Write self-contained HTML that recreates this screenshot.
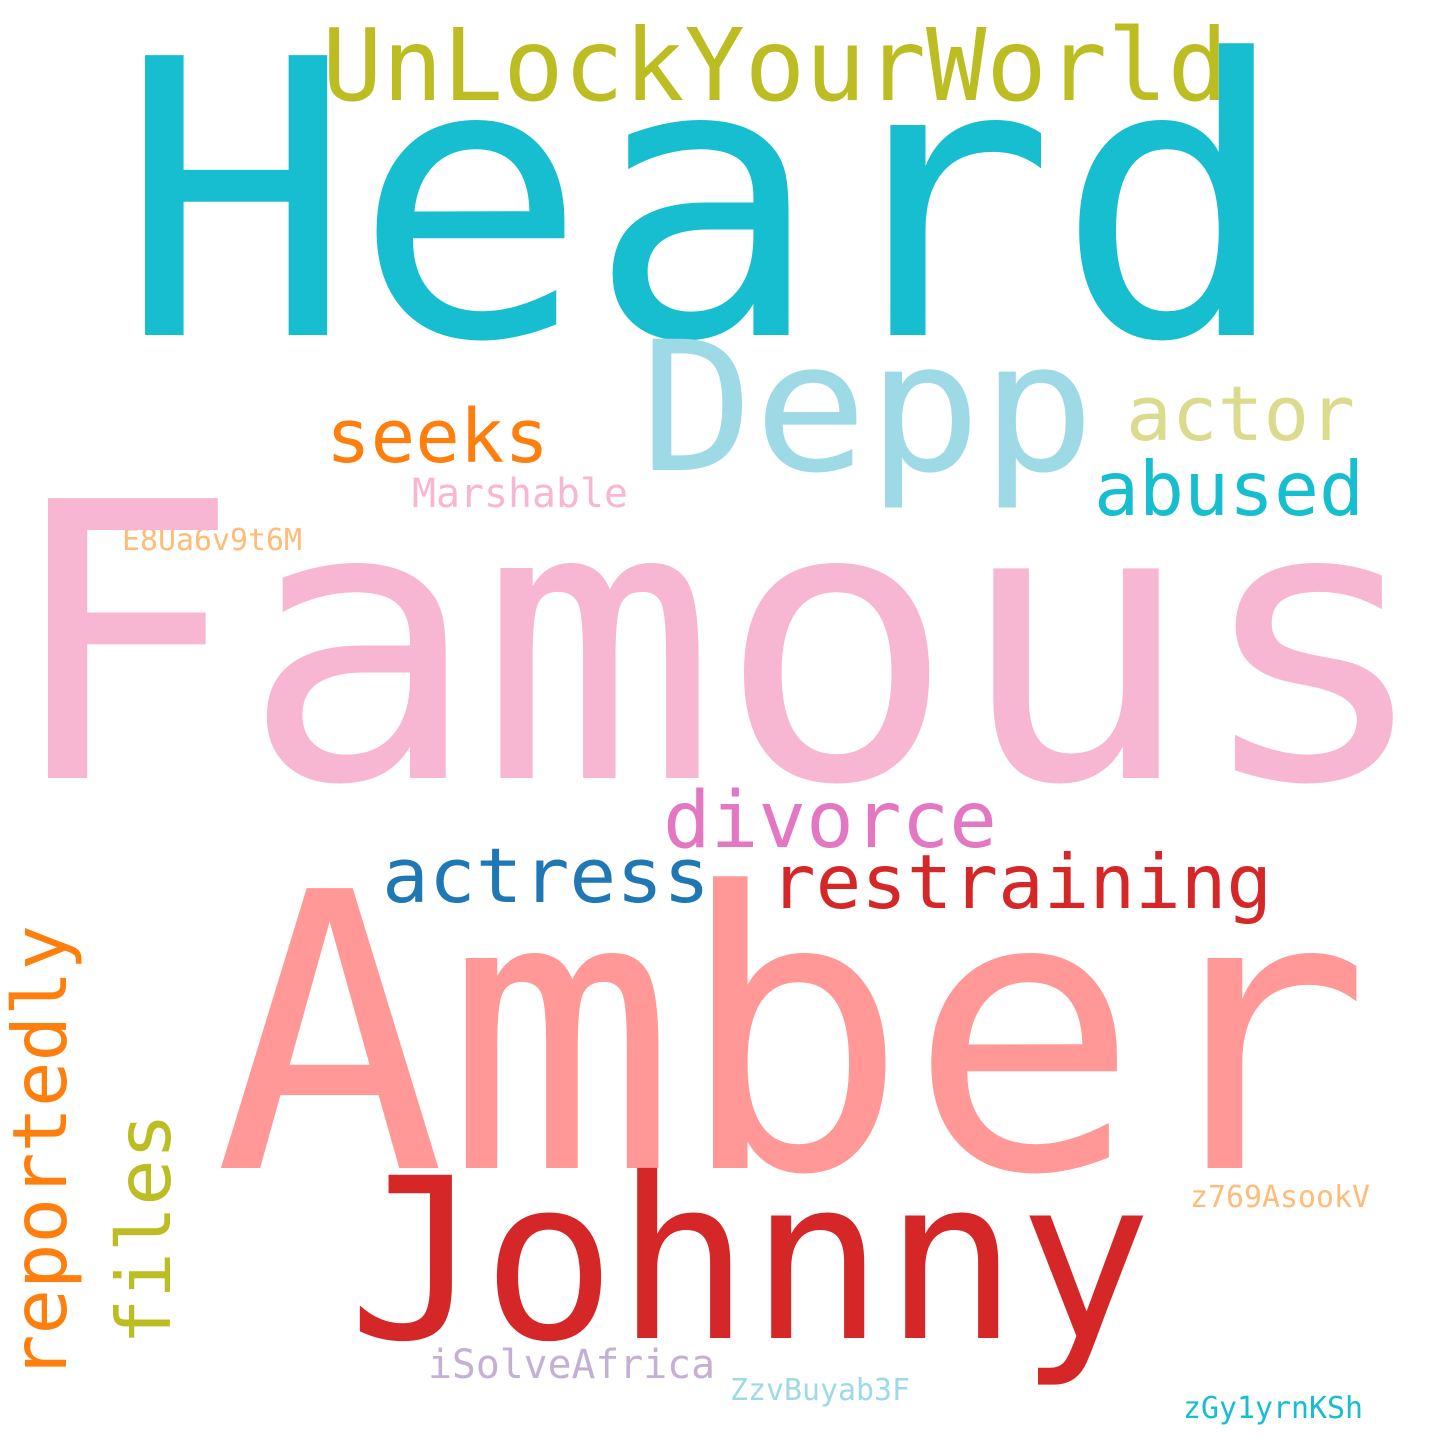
<!DOCTYPE html>
<html><head><meta charset="utf-8"><style>
html,body{margin:0;padding:0;background:#fff;}
svg text{font-family:"DejaVu Sans Mono","Liberation Mono",monospace;}
</style></head><body>
<svg width="1440" height="1440" viewBox="0 0 1440 1440">
<rect width="1440" height="1440" fill="#fff"/>
<text x="119" y="335" font-size="384" fill="#17becf" textLength="1171" lengthAdjust="spacingAndGlyphs">Heard</text>
<text x="322" y="100" font-size="100" fill="#bcbd22" textLength="906" lengthAdjust="spacingAndGlyphs">UnLockYourWorld</text>
<text x="640" y="470" font-size="180" fill="#9edae5" textLength="455" lengthAdjust="spacingAndGlyphs">Depp</text>
<text x="1126" y="440" font-size="76" fill="#dbdb8d" textLength="229" lengthAdjust="spacingAndGlyphs">actor</text>
<text x="326" y="462" font-size="74" fill="#ff7f0e" textLength="223" lengthAdjust="spacingAndGlyphs">seeks</text>
<text x="1094" y="515" font-size="75" fill="#17becf" textLength="270" lengthAdjust="spacingAndGlyphs">abused</text>
<text x="412" y="507" font-size="40" fill="#f7b6d2" textLength="216" lengthAdjust="spacingAndGlyphs">Marshable</text>
<text x="122" y="550" font-size="30" fill="#ffbb78" textLength="180" lengthAdjust="spacingAndGlyphs">E8Ua6v9t6M</text>
<text x="3" y="778" font-size="384" fill="#f7b6d2" textLength="1429" lengthAdjust="spacingAndGlyphs">Famous</text>
<text x="663" y="847" font-size="78" fill="#e377c2" textLength="334" lengthAdjust="spacingAndGlyphs">divorce</text>
<text x="382" y="902" font-size="76" fill="#1f77b4" textLength="328" lengthAdjust="spacingAndGlyphs">actress</text>
<text x="770" y="908" font-size="75" fill="#d62728" textLength="502" lengthAdjust="spacingAndGlyphs">restraining</text>
<text x="214" y="1168" font-size="384" fill="#ff9896" textLength="1157" lengthAdjust="spacingAndGlyphs">Amber</text>
<text x="348" y="1338" font-size="224" fill="#d62728" textLength="804" lengthAdjust="spacingAndGlyphs">Johnny</text>
<text transform="translate(66,1380) rotate(-90)" font-size="75" fill="#ff7f0e" textLength="455" lengthAdjust="spacingAndGlyphs">reportedly</text>
<text transform="translate(170,1345) rotate(-90)" font-size="75" fill="#bcbd22" textLength="232" lengthAdjust="spacingAndGlyphs">files</text>
<text x="1190" y="1207" font-size="30" fill="#ffbb78" textLength="180" lengthAdjust="spacingAndGlyphs">z769AsookV</text>
<text x="428" y="1378" font-size="40" fill="#c5b0d5" textLength="287" lengthAdjust="spacingAndGlyphs">iSolveAfrica</text>
<text x="730" y="1400" font-size="30" fill="#9edae5" textLength="180" lengthAdjust="spacingAndGlyphs">ZzvBuyab3F</text>
<text x="1183" y="1418" font-size="30" fill="#17becf" textLength="180" lengthAdjust="spacingAndGlyphs">zGy1yrnKSh</text>
</svg>
</body></html>
